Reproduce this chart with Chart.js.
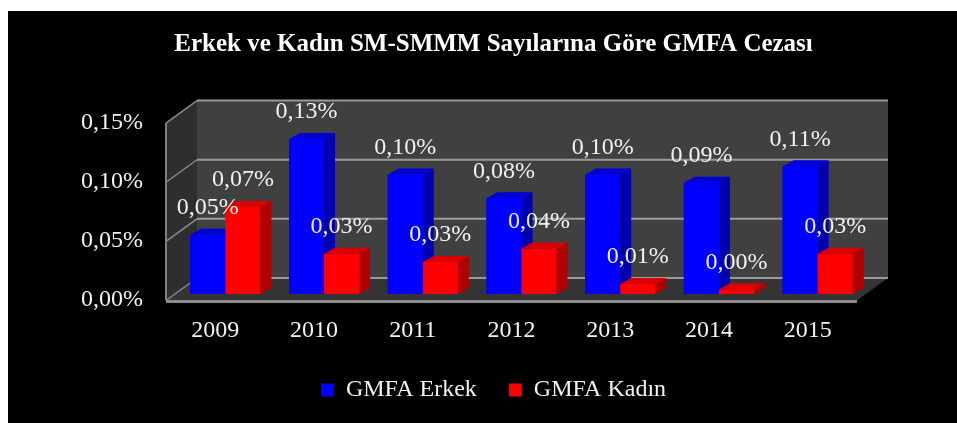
<!DOCTYPE html>
<html>
<head>
<meta charset="utf-8">
<script src="https://cdn.jsdelivr.net/npm/chart.js@4.4.0/dist/chart.umd.min.js"></script>
<style>
  html, body { margin: 0; padding: 0; background: #fff; }
  #wrap { width: 957px; height: 423px; }
</style>
</head>
<body>
<div id="wrap"><canvas id="chart" width="957" height="423"></canvas></div>
<script>
// ===== DATA =====
const years = ['2009', '2010', '2011', '2012', '2013', '2014', '2015'];
const erkek = [0.050, 0.131, 0.101, 0.081, 0.101, 0.094, 0.108];
const kadin = [0.0735, 0.034, 0.027, 0.0385, 0.0085, 0.004, 0.034];
const yTicks = [0, 0.05, 0.10, 0.15];
const seriesNames = ['GMFA Erkek', 'GMFA Kadın'];
const chartTitle = 'Erkek ve Kadın SM-SMMM Sayılarına Göre GMFA Cezası';

// ===== STYLE =====
const SERIF = '"Liberation Serif", "Times New Roman", serif';
const TEXT = '#f2f2f2';
const barFaces = [
  { front: '#0000ff', side: '#0000b0', top: '#0000d8' },
  { front: '#ff0000', side: '#b00000', top: '#d80000' },
];
const DEPTH = { x: 11, y: -6 };      // bar depth
const FRONT = { x: -10, y: 6.5 };    // front edge of the box
const BACK = { x: 21, y: -16 };      // back wall

const fmt = v => v.toFixed(2).replace('.', ',') + '%';

function poly(ctx, pts, fill) {
  ctx.beginPath();
  ctx.moveTo(pts[0][0], pts[0][1]);
  for (let i = 1; i < pts.length; i++) ctx.lineTo(pts[i][0], pts[i][1]);
  ctx.closePath();
  ctx.fillStyle = fill;
  ctx.fill();
}

function line(ctx, x1, y1, x2, y2, color, w) {
  ctx.beginPath();
  ctx.moveTo(x1, y1);
  ctx.lineTo(x2, y2);
  ctx.strokeStyle = color;
  ctx.lineWidth = w;
  ctx.stroke();
}

// ===== 3D LOOK =====
const fake3d = {
  id: 'fake3d',
  beforeDraw(chart) {
    const ctx = chart.ctx;
    ctx.save();
    ctx.fillStyle = '#ffffff';
    ctx.fillRect(0, 0, chart.width, chart.height);
    ctx.fillStyle = '#000000';
    ctx.fillRect(8, 11, chart.width - 8, chart.height - 11);
    ctx.restore();
  },
  beforeDatasetsDraw(chart) {
    const ctx = chart.ctx;
    const { left, right } = chart.chartArea;
    const ys = chart.scales.y;
    const y0 = ys.getPixelForValue(yTicks[0]);
    const yT = ys.getPixelForValue(yTicks[yTicks.length - 1]);
    ctx.save();
    // back wall
    poly(ctx, [[left + BACK.x, yT + BACK.y], [right + BACK.x, yT + BACK.y],
               [right + BACK.x, y0 + BACK.y], [left + BACK.x, y0 + BACK.y]], '#404040');
    // left wall
    poly(ctx, [[left + FRONT.x, yT + FRONT.y], [left + BACK.x, yT + BACK.y],
               [left + BACK.x, y0 + BACK.y], [left + FRONT.x, y0 + FRONT.y]], '#2e2e2e');
    // floor
    poly(ctx, [[left + FRONT.x, y0 + FRONT.y], [right + FRONT.x, y0 + FRONT.y],
               [right + BACK.x, y0 + BACK.y], [left + BACK.x, y0 + BACK.y]], '#343434');
    // gridlines
    yTicks.forEach(v => {
      const yp = ys.getPixelForValue(v);
      line(ctx, left + BACK.x, yp + BACK.y, right + BACK.x, yp + BACK.y, '#9a9a9a', 2);
      line(ctx, left + FRONT.x, yp + FRONT.y, left + BACK.x, yp + BACK.y, '#8a8a8a', 1.5);
    });
    // front edges
    line(ctx, left + FRONT.x, yT + FRONT.y, left + FRONT.x, y0 + FRONT.y, '#7f7f7f', 2);
    line(ctx, left + FRONT.x, y0 + FRONT.y + 1, right + FRONT.x, y0 + FRONT.y + 1, '#8c8c8c', 3);
    ctx.restore();
  },
  afterDatasetsDraw(chart) {
    // redraw bars series by series so the right bar hides the left bar's side
    const ctx = chart.ctx;
    ctx.save();
    chart.data.datasets.forEach((ds, i) => {
      const faces = barFaces[i];
      chart.getDatasetMeta(i).data.forEach(bar => {
        bar.draw(ctx);
        const { x, y, base, width } = bar.getProps(['x', 'y', 'base', 'width'], true);
        const x0 = x - width / 2, x1 = x + width / 2;
        poly(ctx, [[x1, y], [x1 + DEPTH.x, y + DEPTH.y], [x1 + DEPTH.x, base + DEPTH.y], [x1, base]], faces.side);
        poly(ctx, [[x0, y], [x1, y], [x1 + DEPTH.x, y + DEPTH.y], [x0 + DEPTH.x, y + DEPTH.y]], faces.top);
      });
    });
    ctx.restore();
  },
  afterDraw(chart) {
    const ctx = chart.ctx;
    ctx.save();
    ctx.font = '24px ' + SERIF;
    ctx.fillStyle = TEXT;
    ctx.textAlign = 'center';
    ctx.textBaseline = 'middle';
    chart.data.datasets.forEach((ds, i) => {
      chart.getDatasetMeta(i).data.forEach((bar, j) => {
        ctx.fillText(fmt(ds.data[j]), bar.x, bar.y - 27);
      });
    });
    ctx.restore();
  }
};

// ===== CHART =====
const ctx = document.getElementById('chart').getContext('2d');
new Chart(ctx, {
  type: 'bar',
  data: {
    labels: years,
    datasets: [
      { label: seriesNames[0], data: erkek, backgroundColor: barFaces[0].front, borderWidth: 0 },
      { label: seriesNames[1], data: kadin, backgroundColor: barFaces[1].front, borderWidth: 0 },
    ]
  },
  options: {
    responsive: false,
    animation: false,
    devicePixelRatio: 1,
    datasets: { bar: { categoryPercentage: 0.71, barPercentage: 1.0 } },
    layout: { padding: { top: 11, left: 30, right: 0, bottom: 11 } },
    plugins: {
      title: {
        display: true,
        text: chartTitle,
        color: '#ffffff',
        font: { family: SERIF, size: 25, weight: 'bold' },
        padding: { top: 19, bottom: 56.6 },
      },
      legend: {
        position: 'bottom',
        labels: { color: TEXT, font: { family: SERIF, size: 24 }, boxWidth: 13, boxHeight: 13, padding: 32 },
      },
      tooltip: { enabled: false },
    },
    scales: {
      x: {
        grid: { display: false, drawTicks: false },
        border: { display: false },
        ticks: { color: TEXT, font: { family: SERIF, size: 24 }, padding: 22, labelOffset: -10, maxRotation: 0, autoSkip: false },
        afterFit: s => { s.height = 52; },
      },
      y: {
        min: 0, max: 0.15,
        grid: { display: false, drawTicks: false },
        border: { display: false },
        ticks: { color: TEXT, font: { family: SERIF, size: 24 }, padding: 33, labelOffset: 6, callback: v => fmt(v) },
        afterBuildTicks: s => { s.ticks = yTicks.map(v => ({ value: v })); },
        afterFit: s => { s.width = 146; },
      },
      y2: {
        position: 'right',
        grid: { display: false, drawTicks: false },
        border: { display: false },
        ticks: { display: false },
        afterFit: s => { s.width = 90; },
      }
    }
  },
  plugins: [fake3d]
});
</script>
</body>
</html>
